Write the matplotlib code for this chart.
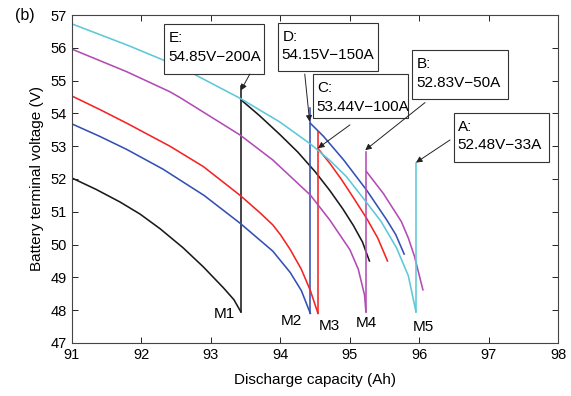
import matplotlib
matplotlib.use("Agg")
import matplotlib.pyplot as plt
from matplotlib.patches import Rectangle

plt.rcParams['font.family'] = ['Liberation Sans', 'DejaVu Sans']

# first discharge segment for each current, ending at the interruption point M
black1_x = [91.0, 91.35, 91.69, 91.98, 92.27, 92.60, 92.89, 93.18, 93.33, 93.43]
black1_y = [52.03, 51.68, 51.30, 50.93, 50.48, 49.90, 49.32, 48.68, 48.32, 47.95]
blue1_x = [91.0, 91.4, 91.79, 92.31, 92.9, 93.42, 93.89, 94.14, 94.3, 94.43]
blue1_y = [53.68, 53.3, 52.9, 52.3, 51.5, 50.65, 49.8, 49.15, 48.6, 47.9]
red1_x = [91.0, 91.4, 91.79, 92.41, 92.89, 93.42, 93.7, 93.89, 94.0, 94.14, 94.3, 94.43, 94.54]
red1_y = [54.53, 54.12, 53.7, 53.0, 52.38, 51.5, 50.98, 50.6, 50.3, 49.85, 49.25, 48.6, 47.9]
mag1_x = [91.0, 91.79, 92.41, 92.55, 93.42, 93.89, 94.43, 94.71, 95.0, 95.12, 95.21, 95.23]
mag1_y = [55.96, 55.27, 54.66, 54.49, 53.34, 52.58, 51.51, 50.75, 49.84, 49.25, 48.46, 47.95]
cyan1_x = [91.0, 91.8, 92.3, 92.7, 93.42, 93.99, 94.43, 94.71, 94.95, 95.24, 95.45, 95.67, 95.84, 95.95]
cyan1_y = [56.73, 56.08, 55.64, 55.26, 54.46, 53.74, 53.07, 52.57, 52.07, 51.28, 50.7, 49.9, 49.05, 47.95]

# recovered voltage after interruption (vertical jump)
m_x = [93.43, 94.43, 94.54, 95.23, 95.95]
m_low = [47.95, 47.9, 47.9, 47.95, 47.95]
recov_v = [54.85, 54.15, 53.44, 52.83, 52.48]
currents = [200, 150, 100, 50, 33]
letters = ['E', 'D', 'C', 'B', 'A']
m_names = ['M1', 'M2', 'M3', 'M4', 'M5']

# continuation after the jump
black2_x = [93.43, 93.7, 93.99, 94.25, 94.5, 94.71, 94.9, 95.05, 95.18, 95.28]
black2_y = [54.42, 53.93, 53.36, 52.82, 52.22, 51.65, 51.08, 50.58, 50.08, 49.5]
blue2_x = [94.43, 94.62, 94.91, 95.24, 95.53, 95.66, 95.78]
blue2_y = [53.7, 53.3, 52.58, 51.66, 50.75, 50.3, 49.71]
red2_x = [94.54, 94.71, 94.88, 95.05, 95.24, 95.4, 95.54]
red2_y = [52.93, 52.48, 51.98, 51.43, 50.8, 50.2, 49.5]
mag2_x = [95.24, 95.48, 95.74, 95.84, 95.93, 96.05]
mag2_y = [52.22, 51.56, 50.7, 50.2, 49.63, 48.62]

colors = ['#1a1a1a', '#3450b4', '#f42424', '#b24cb4', '#5cc8d8']

fig = plt.figure(figsize=(5.71, 3.96), dpi=100)
ax = fig.add_axes([0.126, 0.134, 0.852, 0.828])

firsts = [(black1_x, black1_y), (blue1_x, blue1_y), (red1_x, red1_y),
          (mag1_x, mag1_y), (cyan1_x, cyan1_y)]
seconds = [(black2_x, black2_y), (blue2_x, blue2_y), (red2_x, red2_y),
           (mag2_x, mag2_y), None]

for i in range(5):
    c = colors[i]
    ax.plot(firsts[i][0], firsts[i][1], color=c, lw=1.15)
    ax.plot([m_x[i], m_x[i]], [m_low[i], recov_v[i]], color=c, lw=1.15)
    if seconds[i] is not None:
        ax.plot(seconds[i][0], seconds[i][1], color=c, lw=1.15)

# M labels
m_pos = [(93.19, 47.88), (94.16, 47.67), (94.71, 47.52), (95.24, 47.6), (96.06, 47.49)]
for name, (x, y) in zip(m_names, m_pos):
    ax.text(x, y, name, ha='center', va='center', fontsize=11)

# annotation boxes: x0, x1, ytop, ybot, arrow start
boxes = [(92.33, 93.76, 56.72, 55.2, (93.56, 55.2)),
         (93.97, 95.41, 56.77, 55.3, (94.35, 55.2)),
         (94.47, 95.84, 55.2, 53.85, (95.0, 53.65)),
         (95.90, 97.28, 55.93, 54.44, (96.08, 54.33)),
         (96.50, 97.87, 54.02, 52.51, (96.44, 53.19))]
tips = [(93.43, 54.7), (94.42, 53.75), (94.54, 52.94), (95.22, 52.88), (95.95, 52.5)]

for i, (x0, x1, yt, yb, start) in enumerate(boxes):
    ax.add_patch(Rectangle((x0, yb), x1 - x0, yt - yb, facecolor='white',
                           edgecolor='#333333', lw=0.8, zorder=5))
    ax.text(x0 + 0.06, yt - 0.43, letters[i] + ':', fontsize=11, va='center', zorder=6)
    ax.text(x0 + 0.05, yt - 0.99, '%.2fV\u2212%dA' % (recov_v[i], currents[i]),
            fontsize=11, va='center', zorder=6)
    ax.annotate('', xy=tips[i], xytext=start, zorder=7,
                arrowprops=dict(arrowstyle='-|>', color='#222222', lw=0.7,
                                mutation_scale=9, shrinkA=0, shrinkB=0))

ax.set_xlim(91, 98)
ax.set_ylim(47, 57)
ax.set_xticks(range(91, 99))
ax.set_yticks(range(47, 58))
ax.tick_params(direction='in', top=True, right=True, labelsize=10.5, length=4, width=0.6)
for s in ax.spines.values():
    s.set_linewidth(0.8)
    s.set_color('#444444')
ax.set_xlabel('Discharge capacity (Ah)', fontsize=11, labelpad=8)
ax.set_ylabel('Battery terminal voltage (V)', fontsize=11, labelpad=5)
fig.text(0.026, 0.962, '(b)', fontsize=11.5, va='center')

fig.savefig('out.png', dpi=100)
